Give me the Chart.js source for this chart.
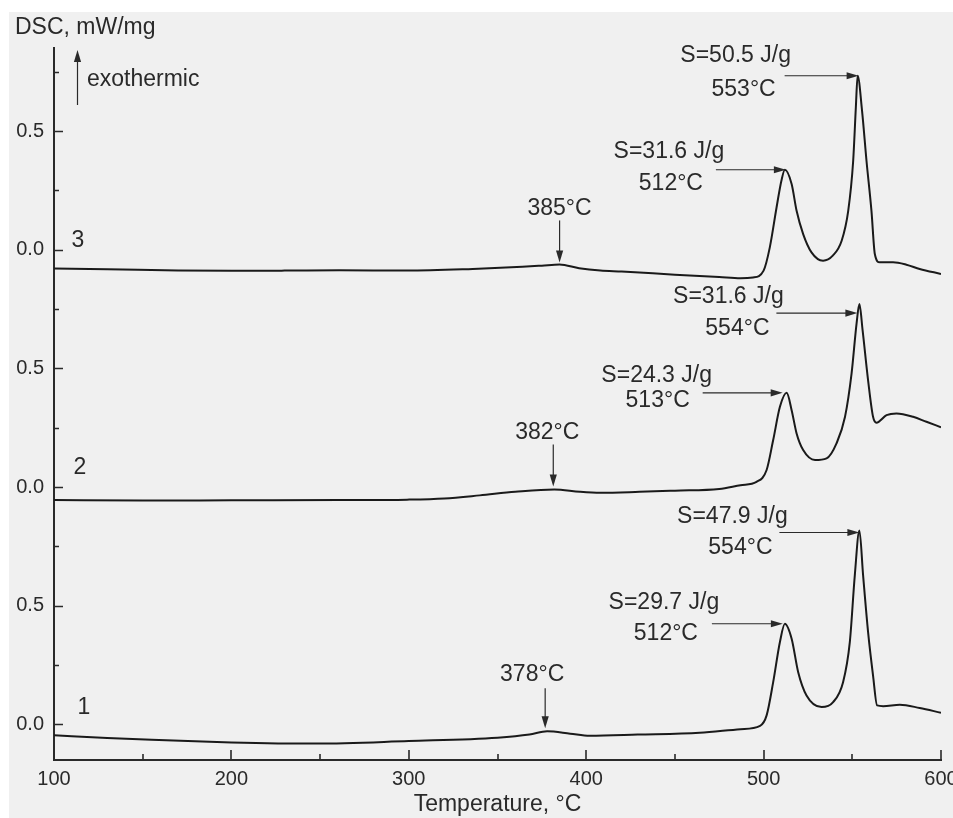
<!DOCTYPE html>
<html>
<head>
<meta charset="utf-8">
<script src="https://cdn.jsdelivr.net/npm/chart.js@4.4.1/dist/chart.umd.min.js"></script>
<style>
  html, body { margin: 0; padding: 0; background: #ffffff; }
  canvas { display: block; }
</style>
</head>
<body>
<canvas id="dsc" width="953" height="818"></canvas>
<script>
// ---- Temperature axis ----
const xTicks = [100, 200, 300, 400, 500, 600];
const xMinorTicks = [150, 250, 350, 450, 550];

// ---- Stacked DSC axis: every curve sits on its own zero, 1 mW/mg apart ----
const curveNames = ['1', '2', '3'];
const curveOffsets = [0, 1, 2];
const yTickValues = [0, 0.5, 1, 1.5, 2, 2.5];
const yTickLabels = ['0.0', '0.5', '0.0', '0.5', '0.0', '0.5'];
const yMinorTicks = [0.25, 0.75, 1.25, 1.75, 2.25, 2.75];

// ---- Curve 1 ----
const temp1 = [100, 130, 155, 200, 248, 300, 350, 368, 378, 391, 402, 429, 464, 487, 498,
  501.7, 505.4, 509.2, 512, 515.8, 519.5, 524.2, 532.7, 539.2, 544.8, 548.6, 551.4, 554,
  556.1, 558.9, 561.7, 564, 567.4, 576.8, 588, 600];
const dsc1 = [-0.046, -0.057, -0.065, -0.076, -0.081, -0.070, -0.056, -0.043, -0.029, -0.039, -0.048, -0.043, -0.035, -0.020, -0.006,
  0.038, 0.178, 0.347, 0.424, 0.361, 0.220, 0.122, 0.073, 0.094, 0.178, 0.347, 0.627, 0.817,
  0.627, 0.389, 0.206, 0.080, 0.077, 0.083, 0.069, 0.049];

// ---- Curve 2 ----
const temp2 = [100, 150, 200, 261, 299, 320, 340, 360, 382, 396.5, 408, 430, 450, 475, 487, 496,
  501.7, 505.4, 509.2, 513, 515.8, 518.6, 522.3, 529, 535.5, 541.1, 545.9, 549.6, 552.4, 554,
  555.8, 558.9, 561.7, 563.6, 569.3, 574.9, 584.3, 591.8, 600];
const dsc2 = [-0.055, -0.057, -0.056, -0.055, -0.053, -0.048, -0.035, -0.020, -0.010, -0.020, -0.024, -0.020, -0.015, -0.008, 0.008, 0.022,
  0.072, 0.198, 0.338, 0.397, 0.324, 0.226, 0.156, 0.114, 0.121, 0.184, 0.296, 0.479, 0.689, 0.771,
  0.661, 0.450, 0.296, 0.271, 0.303, 0.310, 0.296, 0.275, 0.252];

// ---- Curve 3 ----
const temp3 = [100, 130, 170, 200, 230, 261, 299, 336, 364, 375, 385, 396, 408, 420, 450, 475, 487, 494,
  500, 503.5, 507.3, 510, 512, 515.8, 518.6, 522.3, 527, 533.5, 539, 544, 547.7, 550.5, 552, 553,
  555.5, 558, 560.8, 562.7, 565.5, 573, 580.5, 588, 600];
const dsc3 = [-0.079, -0.082, -0.088, -0.089, -0.088, -0.086, -0.088, -0.081, -0.072, -0.067, -0.062, -0.078, -0.088, -0.092, -0.105, -0.115, -0.120, -0.117,
  -0.088, 0.010, 0.178, 0.290, 0.337, 0.277, 0.164, 0.066, -0.011, -0.046, -0.025, 0.038, 0.164, 0.375, 0.600, 0.733,
  0.585, 0.375, 0.164, -0.018, -0.053, -0.053, -0.063, -0.081, -0.102];

const curveTemps = [temp1, temp2, temp3];
const curveValues = [dsc1, dsc2, dsc3];

// ---- Peak annotations (curve index, peak temperature, text) ----
const peakCurve = [2, 2, 2, 1, 1, 1, 0, 0, 0];
const peakTemp = [385, 512, 553, 382, 513, 554, 378, 512, 554];
const peakText = [
  ['385°C'], ['S=31.6 J/g', '512°C'], ['S=50.5 J/g', '553°C'],
  ['382°C'], ['S=24.3 J/g', '513°C'], ['S=31.6 J/g', '554°C'],
  ['378°C'], ['S=29.7 J/g', '512°C'], ['S=47.9 J/g', '554°C']
];

// ---- Drawing layout (pixel offsets from each peak) ----
const annotLayout = [
  { dir: 'v', tip: [0, -2], len: 42, text: [[0, -56]] },
  { dir: 'h', tip: [1, 0], len: 70, text: [[-116, -18], [-114, 14]] },
  { dir: 'h', tip: [1, 0], len: 74, text: [[-122, -20], [-114, 14]] },
  { dir: 'v', tip: [-1, -3], len: 42, text: [[-7, -57]] },
  { dir: 'h', tip: [-4, 0], len: 80, text: [[-130, -17], [-129, 8]] },
  { dir: 'h', tip: [-2, 9], len: 81, text: [[-131, -7], [-122, 25]] },
  { dir: 'v', tip: [-2, -3], len: 40, text: [[-15, -57]] },
  { dir: 'h', tip: [-2, 0], len: 71, text: [[-121, -21], [-119, 10]] },
  { dir: 'h', tip: [0, 2], len: 80, text: [[-127, -14], [-119, 17]] }
];
const curveLabelLayout = [[84, -17], [80, -19], [78, -9]];

const FONT = '"Liberation Sans", Arial, Helvetica, sans-serif';
const INK = '#2a2a2a';
const LINE = '#1a1a1a';
const Y_MIN = -0.15, Y_MAX = 2.85;

function arrowHead(ctx, x, y, dx, dy) {
  const L = 12, W = 3.6;
  const nx = -dy, ny = dx;
  ctx.beginPath();
  ctx.moveTo(x, y);
  ctx.lineTo(x - dx * L + nx * W, y - dy * L + ny * W);
  ctx.lineTo(x - dx * L - nx * W, y - dy * L - ny * W);
  ctx.closePath();
  ctx.fill();
}

const pagePlugin = {
  id: 'page',
  beforeDraw(chart) {
    const ctx = chart.ctx;
    ctx.save();
    ctx.fillStyle = '#ffffff';
    ctx.fillRect(0, 0, chart.width, chart.height);
    ctx.fillStyle = '#f0f0f0';
    ctx.fillRect(9, 12, chart.width - 9, chart.height - 12);
    ctx.restore();
  }
};

const decorPlugin = {
  id: 'decor',
  afterDraw(chart) {
    const { ctx, chartArea: area, scales: { x, y } } = chart;
    ctx.save();

    // inward tick marks
    ctx.strokeStyle = INK;
    ctx.lineWidth = 1.6;
    ctx.beginPath();
    yTickValues.forEach(v => { const p = Math.round(y.getPixelForValue(v)) + 0.5; ctx.moveTo(area.left, p); ctx.lineTo(area.left + 9, p); });
    yMinorTicks.forEach(v => { const p = Math.round(y.getPixelForValue(v)) + 0.5; ctx.moveTo(area.left, p); ctx.lineTo(area.left + 5, p); });
    xTicks.forEach(v => { const p = Math.round(x.getPixelForValue(v)); ctx.moveTo(p, area.bottom); ctx.lineTo(p, area.bottom - 10); });
    xMinorTicks.forEach(v => { const p = Math.round(x.getPixelForValue(v)); ctx.moveTo(p, area.bottom); ctx.lineTo(p, area.bottom - 6); });
    ctx.stroke();

    ctx.fillStyle = INK;
    ctx.textBaseline = 'middle';

    // axis caption and direction note
    ctx.font = '23px ' + FONT;
    ctx.textAlign = 'left';
    ctx.fillText('DSC, mW/mg', area.left - 39, area.top - 20);
    ctx.fillText('exothermic', area.left + 33, area.top + 32);
    ctx.strokeStyle = INK;
    ctx.lineWidth = 1.2;
    ctx.beginPath();
    ctx.moveTo(area.left + 23.5, area.top + 57);
    ctx.lineTo(area.left + 23.5, area.top + 8);
    ctx.stroke();
    arrowHead(ctx, area.left + 23.5, area.top + 2, 0, -1);

    // curve numbers
    ctx.textAlign = 'center';
    curveNames.forEach((name, c) => {
      const [px, dy] = curveLabelLayout[c];
      ctx.fillText(name, px, y.getPixelForValue(curveOffsets[c]) + dy);
    });

    // peak arrows and labels
    peakTemp.forEach((t, i) => {
      const c = peakCurve[i];
      const idx = curveTemps[c].indexOf(t);
      const v = curveValues[c][idx] + curveOffsets[c];
      const px = x.getPixelForValue(t);
      const py = y.getPixelForValue(v);
      const lay = annotLayout[i];
      const tx = px + lay.tip[0], ty = py + lay.tip[1];
      ctx.lineWidth = 1.2;
      ctx.beginPath();
      if (lay.dir === 'h') {
        ctx.moveTo(tx - lay.len, ty);
        ctx.lineTo(tx - 6, ty);
        ctx.stroke();
        arrowHead(ctx, tx, ty, 1, 0);
      } else {
        ctx.moveTo(tx, ty - lay.len);
        ctx.lineTo(tx, ty - 6);
        ctx.stroke();
        arrowHead(ctx, tx, ty, 0, 1);
      }
      ctx.font = '23px ' + FONT;
      ctx.textAlign = 'center';
      peakText[i].forEach((line, k) => {
        const [dx, dy] = lay.text[k];
        ctx.fillText(line, px + dx, py + dy);
      });
    });
    ctx.restore();
  }
};

const datasets = curveTemps.map((temps, c) => ({
  label: curveNames[c],
  data: temps.map((t, i) => ({ x: t, y: curveValues[c][i] + curveOffsets[c] })),
  borderColor: LINE,
  borderWidth: 2,
  pointRadius: 0,
  fill: false,
  cubicInterpolationMode: 'monotone'
}));

new Chart(document.getElementById('dsc'), {
  type: 'line',
  data: { datasets },
  options: {
    responsive: false,
    animation: false,
    layout: { padding: { left: 0, right: 12, top: 48, bottom: 0 } },
    plugins: { legend: { display: false }, tooltip: { enabled: false } },
    scales: {
      x: {
        type: 'linear',
        min: 100,
        max: 600,
        afterBuildTicks: s => { s.ticks = xTicks.map(v => ({ value: v })); },
        afterFit: s => { s.height = 58; s.paddingLeft = 0; s.paddingRight = 0; },
        grid: { display: false, drawTicks: false },
        border: { display: true, color: INK, width: 2 },
        ticks: { padding: 7, color: INK, font: { family: FONT, size: 20 }, maxRotation: 0, autoSkip: false },
        title: { display: true, text: 'Temperature, °C', color: INK, font: { family: FONT, size: 23 }, padding: { top: 0, bottom: 0 } }
      },
      y: {
        type: 'linear',
        min: Y_MIN,
        max: Y_MAX,
        afterBuildTicks: s => { s.ticks = yTickValues.map(v => ({ value: v })); },
        afterFit: s => { s.width = 54; s.paddingTop = 0; s.paddingBottom = 0; },
        grid: { display: false, drawTicks: false },
        border: { display: true, color: INK, width: 2 },
        ticks: { padding: 10, color: INK, font: { family: FONT, size: 20 }, autoSkip: false,
          callback: (value, index) => yTickLabels[index] }
      }
    }
  },
  plugins: [pagePlugin, decorPlugin]
});
</script>
</body>
</html>
